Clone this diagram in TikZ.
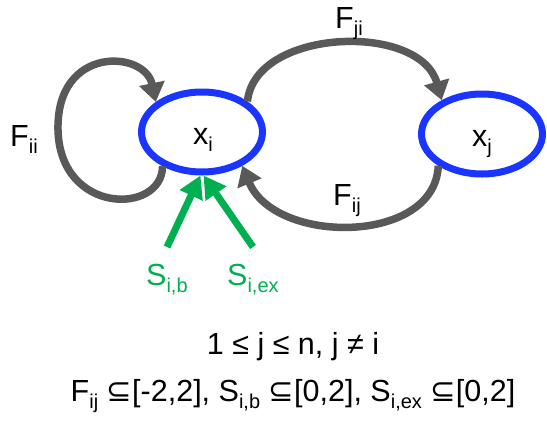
\documentclass[tikz,border=0pt]{standalone}
\usepackage{fontspec}
\setmainfont{Liberation Sans}
\newfontfamily\symf{DejaVu Sans}
\usetikzlibrary{shapes.geometric,arrows.meta}
\definecolor{nodeblue}{HTML}{1A35FF}
\definecolor{arrgray}{HTML}{595959}
\definecolor{sgreen}{HTML}{00B050}
\newcommand{\sbs}[1]{\raisebox{-0.25em}{\fontsize{20}{20}\selectfont #1}}
\begin{document}
\begin{tikzpicture}[x=1pt,y=-1pt,
 state/.style={ellipse, draw=nodeblue, line width=7pt, minimum width=121pt, minimum height=80pt, inner sep=0pt},
 txt/.style={inner sep=0pt, font=\fontsize{30.5}{36}\selectfont},
 flow/.style={draw=arrgray, line width=7.5pt, -{Triangle[length=19pt,width=25pt]}},
 src/.style={draw=sgreen, line width=7pt, -{Triangle[length=22pt,width=24pt]}},
]
\useasboundingbox (0,0) rectangle (547,421);
\node[state] (xi) at (202,132) {};
\node[state] (xj) at (482,134) {};
\node[txt, anchor=base west] (lxi) at (193,144) {x\sbs{i}};
\node[txt, anchor=base west] (lxj) at (472,146) {x\sbs{j}};
% self loop
\draw[flow] (xi.221) .. controls (162,215) and (60,215) .. (58,130)
  .. controls (56,45) and (145,50) .. (xi.147);
\node[txt, anchor=base west] (lfii) at (10,146) {F\sbs{ii}};
% F_ji
\draw[flow] (xi.34) .. controls (255,28) and (420,22) .. (xj.140);
\node[txt, anchor=base west] (lfji) at (335,28) {F\sbs{ji}};
% F_ij
\draw[flow] (xj.216) .. controls (435,245) and (275,245) .. (xi.320);
\node[txt, anchor=base west] (lfij) at (333,205) {F\sbs{ij}};
% sources
\coordinate (sb) at (167,247);
\coordinate (sex) at (253,247);
\draw[src] (sb) -- (xi.268);
\draw[src] (sex) -- (xi.272);
\node[txt, anchor=base west, text=sgreen] (lsb) at (146,285) {S\sbs{i,b}};
\node[txt, anchor=base west, text=sgreen] (lsex) at (227,285) {S\sbs{i,ex}};
% bottom text
\node[txt, anchor=base] (c1) at (293,354) {1 ≤ j ≤ n, j ≠ i};
\node[txt, anchor=base] (c2) at (293,401) {F\sbs{ij} {\symf ⊆}[-2,2], S\sbs{i,b} {\symf ⊆}[0,2], S\sbs{i,ex} {\symf ⊆}[0,2]};
\end{tikzpicture}
\end{document}
